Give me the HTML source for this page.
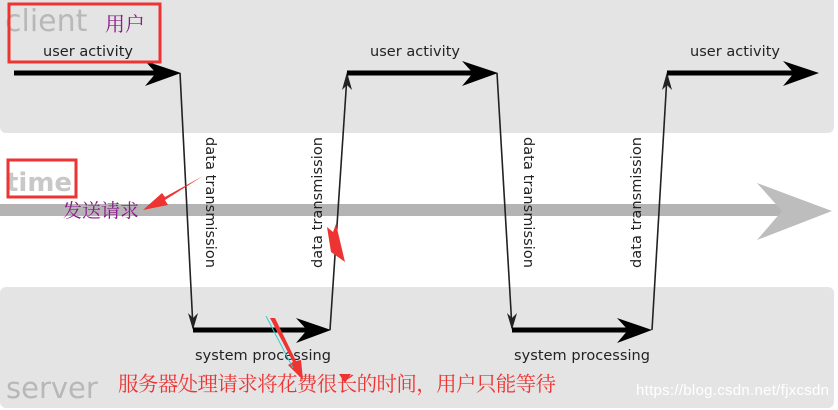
<!DOCTYPE html>
<html><head><meta charset="utf-8"><style>
html,body{margin:0;padding:0;background:#fff;}
svg{display:block;}
</style></head><body>
<svg width="838" height="410" viewBox="0 0 838 410" xmlns="http://www.w3.org/2000/svg" font-family="'DejaVu Sans','Liberation Sans',sans-serif">
<rect x="0" y="-10" width="834" height="143" rx="6" fill="#e4e4e4"/>
<rect x="0" y="287" width="834" height="121" rx="6" fill="#e4e4e4"/>
<!-- time bar -->
<rect x="0" y="204" width="790" height="12" fill="#b4b4b4"/>
<polygon points="757,183 832,211 757,240 782,211" fill="#bdbdbd"/>
<text x="6" y="191" font-size="26" fill="#c8c8c8" font-weight="bold">time</text>
<text x="5" y="31" font-size="30" fill="#b8b8b8">client</text>
<text x="6" y="398" font-size="29" fill="#b8b8b8">server</text>
<!-- connectors -->
<g stroke="#222" stroke-width="1.6" fill="none">
<line x1="180" y1="73" x2="193" y2="328"/>
<line x1="330" y1="330" x2="347" y2="76"/>
<line x1="497" y1="73" x2="512" y2="328"/>
<line x1="652" y1="330" x2="667" y2="76"/>
</g>
<g fill="#222">
<polygon points="193,330 188,313 193,318 198,313"/>
<polygon points="347,72 342,90 347,85 352,90"/>
<polygon points="512,330 507,313 512,318 517,313"/>
<polygon points="667,72 662,90 667,85 672,90"/>
</g>
<g stroke="#000" stroke-width="5">
<line x1="14" y1="73" x2="165" y2="73"/>
<line x1="347" y1="73" x2="485" y2="73"/>
<line x1="667" y1="73" x2="805" y2="73"/>
<line x1="193" y1="330" x2="318" y2="330"/>
<line x1="512" y1="330" x2="640" y2="330"/>
</g>
<g fill="#000">
<polygon points="145,61 181,73 145,86 156,73"/>
<polygon points="462,61 498,73 462,86 473,73"/>
<polygon points="783,61 819,73 783,86 794,73"/>
<polygon points="296,318 331,330 296,343 307,330"/>
<polygon points="617,318 652,330 617,343 628,330"/>
</g>
<g font-size="14.5" fill="#222">
<text x="43" y="56" textLength="90">user activity</text>
<text x="370" y="56" textLength="90">user activity</text>
<text x="690" y="56" textLength="90">user activity</text>
<text x="195" y="360" textLength="136">system processing</text>
<text x="514" y="360" textLength="136">system processing</text>
<text transform="translate(206,137) rotate(90)" textLength="131">data transmission</text>
<text transform="translate(322,268) rotate(-90)" textLength="131">data transmission</text>
<text transform="translate(524,137) rotate(90)" textLength="131">data transmission</text>
<text transform="translate(641,268) rotate(-90)" textLength="131">data transmission</text>
</g>
<!-- red annotations -->
<g stroke="#ee3333" stroke-width="3" fill="none">
<rect x="9" y="4" width="151" height="58"/>
<rect x="8" y="160" width="68" height="37"/>
</g>
<text x="105" y="31" font-size="20" fill="#8b1a8b" font-family="'Liberation Serif','Noto Serif CJK SC',serif">用户</text>
<text x="63" y="217" font-size="19" fill="#8b1a8b" font-family="'Liberation Serif','Noto Serif CJK SC',serif">发送请求</text>
<g fill="#ee3333">
<polygon points="203,176 165,197 162,193 143,210 168,205 165,200"/>
<polygon points="327,227 333,232 336,224 345,262 331,252"/>
<polygon points="270,318 293,362 288,365 303,380 301,360 296,361 275,318"/>
<polygon points="339,374 351,374 345,383"/>
</g>
<line x1="266" y1="316" x2="293" y2="368" stroke="#33cccc" stroke-width="1"/>
<text x="118" y="391" font-size="20.5" fill="#ee3333" font-family="'Liberation Serif','Noto Serif CJK SC',serif" textLength="438">服务器处理请求将花费很长的时间，用户只能等待</text>
<text x="636" y="395" font-size="15" fill="#ffffff" font-family="'Liberation Sans',sans-serif" textLength="193">https://blog.csdn.net/fjxcsdn</text>
</svg>
</body></html>
